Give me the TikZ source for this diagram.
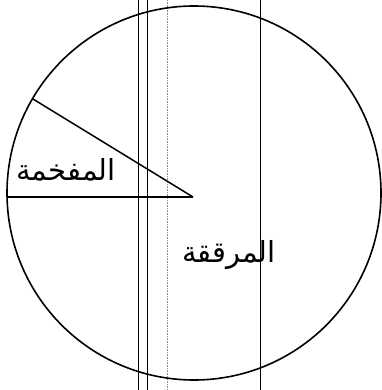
\documentclass[tikz,border=0pt]{standalone}
\usepackage{fontspec}
\newfontfamily\arabicfont[Script=Arabic]{DejaVu Sans}
\TeXXeTstate=1
\usetikzlibrary{positioning}
\tikzstyle{rim} = [line width=1.6pt, draw=black]
\tikzstyle{radius} = [line width=1.5pt, draw=black]
\tikzstyle{baseradius} = [line width=1.1pt, draw=black]
\tikzstyle{guide} = [line width=0.8pt, draw=black]
\tikzstyle{faintguide} = [line width=0.6pt, draw=black!45, densely dotted]
\tikzstyle{label} = [inner sep=0pt, font=\arabicfont\fontsize{29}{32}\selectfont]

\begin{document}
\begin{tikzpicture}[x=1pt, y=-1pt]

\useasboundingbox (0,0) rectangle (381,390);

% Vertical guide lines
\draw [guide] (138,0) -- (138,390);
\draw [guide] (147,0) -- (147,390);
\draw [faintguide] (167,0) -- (167,390);
\draw [guide] (260,0) -- (260,390);

% Circle
\coordinate (centre) at (194,193);
\draw [rim] (centre) circle (187);

% Sector
\coordinate (apex) at (193,197);
\coordinate (lefttip) at (7.5,197);
\coordinate (uppertip) at (33,99);
\draw [baseradius] (lefttip) -- (apex);
\draw [radius] (uppertip) -- (apex);

% Labels
\node (heavy) [label] at (66,170) {\beginR المفخمة\endR};
\node (light) [label] at (229,255) {\beginR المرققة\endR};

\end{tikzpicture}
\end{document}
